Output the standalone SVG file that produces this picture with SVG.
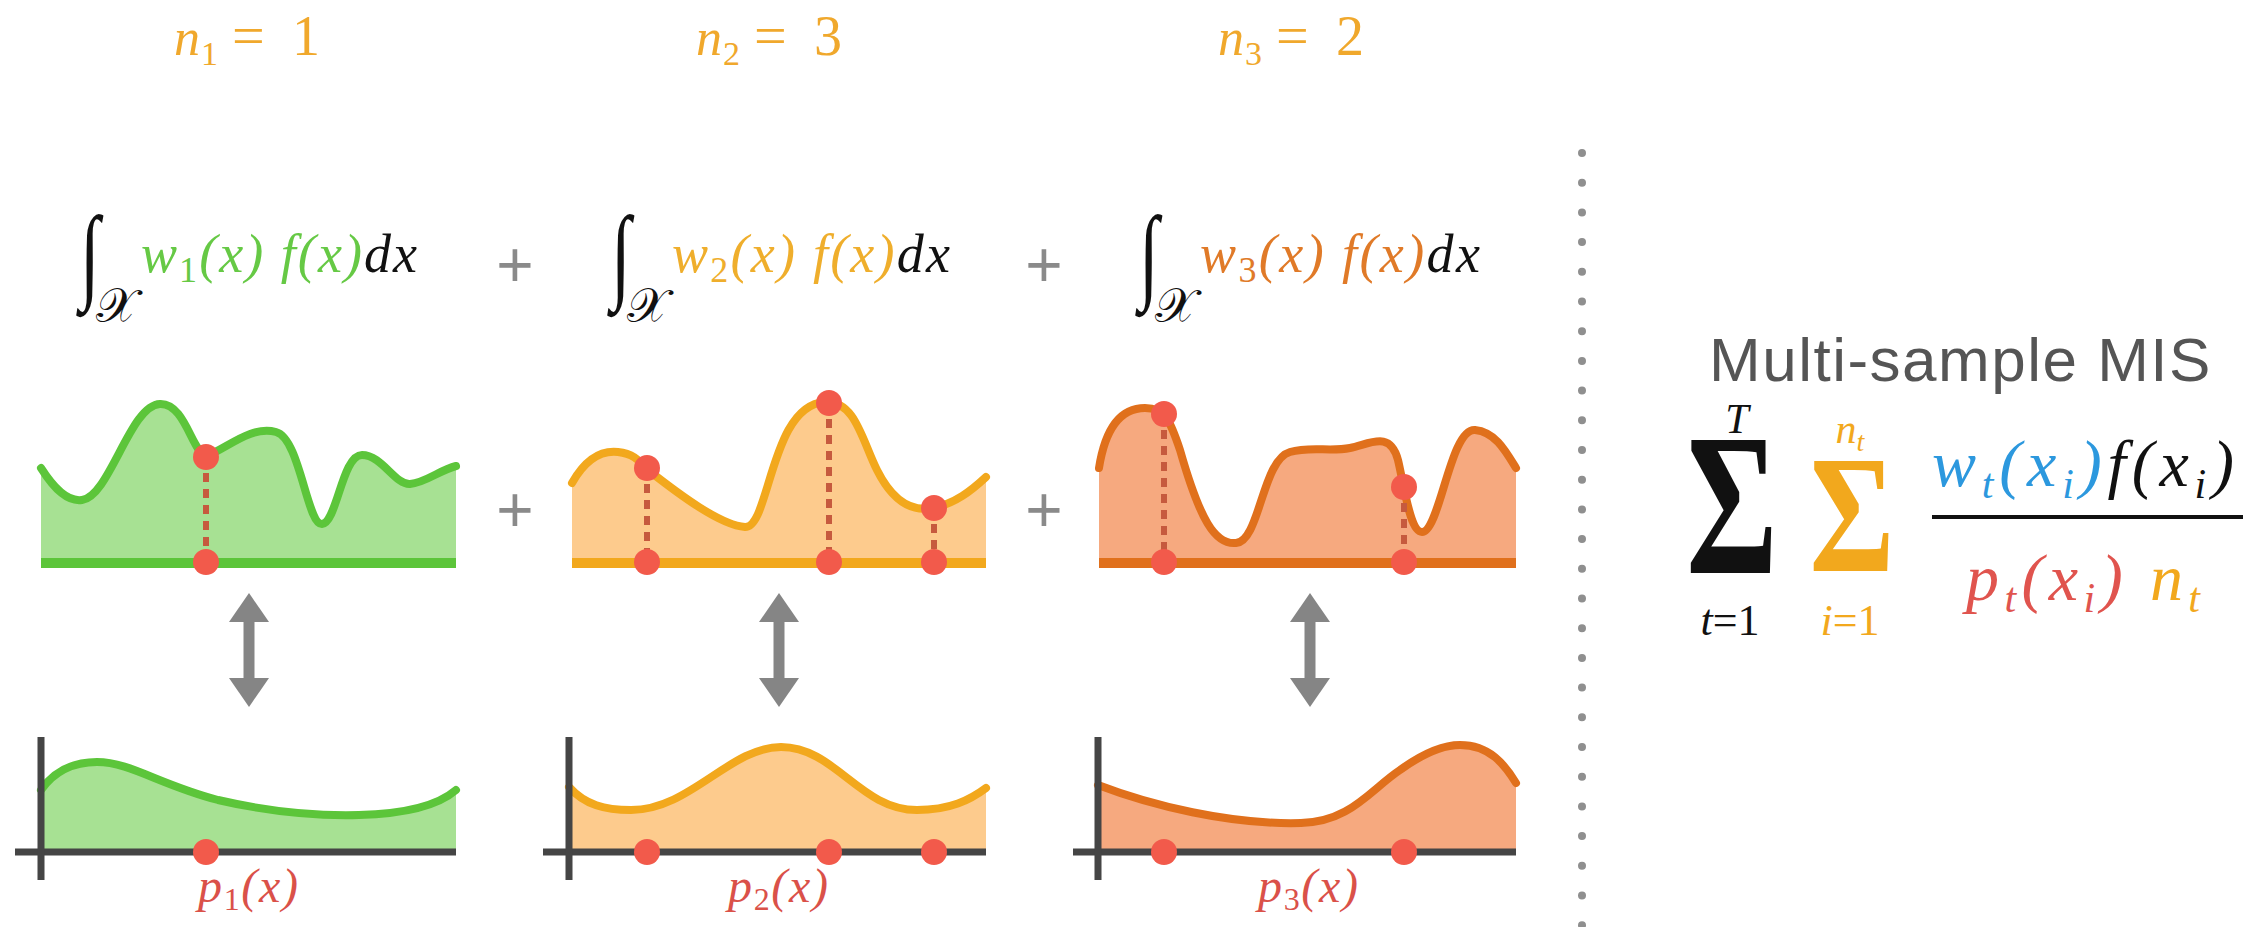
<svg xmlns="http://www.w3.org/2000/svg" width="2262" height="927" viewBox="0 0 2262 927">
<style>
.math{font-family:"Liberation Serif","DejaVu Serif",serif;font-style:italic}
.up{font-style:normal}
.curve{fill:none;stroke-width:8;stroke-linecap:round;stroke-linejoin:round}
.base{stroke-width:10}
.gf{fill:#A7E193}.gs{stroke:#5CC53A}
.of{fill:#FDCB8D}.os{stroke:#F2A81D}
.rf{fill:#F6A97F}.rs{stroke:#E0701C}
.axis{stroke:#454545;stroke-width:7}
.dot{fill:#F25A4B}
.drop{stroke:#C65A3E;stroke-width:6;stroke-dasharray:9 7}
.plus{font-family:"Liberation Sans",sans-serif;fill:#8a8a8a;font-size:64px;text-anchor:middle}
.nlab{fill:#F0A82C;font-size:52px}
.plab{fill:#DA5149;font-size:48px}
.intsign{font-family:"Liberation Serif","DejaVu Serif",serif;font-size:72px;fill:#111}
.scx{font-family:"DejaVu Serif","DejaVu Sans",serif;font-size:48px;fill:#111;text-anchor:middle}
.sigma{font-family:"Liberation Serif","DejaVu Serif",serif;font-weight:bold;text-anchor:middle}
.arrow{stroke:#858585;stroke-width:11;fill:none}
</style>
<defs>
<marker id="ah" viewBox="0 0 29 40" refX="0" refY="20" markerWidth="29" markerHeight="40" markerUnits="userSpaceOnUse" orient="auto-start-reverse">
<path d="M0,0 L29,20 L0,40 Z" fill="#858585"/>
</marker>
</defs>
<rect width="2262" height="927" fill="#fff"/>

<!-- n labels -->
<g id="label-n1"><text class="math nlab" y="55"><tspan x="174">n</tspan><tspan class="up" font-size="34" x="201" dy="10">1</tspan><tspan class="up" x="232" dy="-10" font-size="58">=</tspan><tspan class="up" x="292" font-size="56">1</tspan></text></g>
<g id="label-n2"><text class="math nlab" y="55"><tspan x="696">n</tspan><tspan class="up" font-size="34" x="723" dy="10">2</tspan><tspan class="up" x="754" dy="-10" font-size="58">=</tspan><tspan class="up" x="814" font-size="56">3</tspan></text></g>
<g id="label-n3"><text class="math nlab" y="55"><tspan x="1218">n</tspan><tspan class="up" font-size="34" x="1245" dy="10">3</tspan><tspan class="up" x="1276" dy="-10" font-size="58">=</tspan><tspan class="up" x="1336" font-size="56">2</tspan></text></g>

<!-- integrals -->
<g id="integral-1">
<text class="intsign" transform="translate(80,289) scale(1,1.46)">∫</text>
<text class="scx" x="116" y="322">𝒳</text>
<text class="math" x="141" y="272" font-size="54" textLength="276" lengthAdjust="spacing"><tspan fill="#66C945">w<tspan class="up" font-size="36" dy="10">1</tspan><tspan dy="-10">(x) f(x)</tspan></tspan><tspan fill="#111">dx</tspan></text>
</g>
<g id="plus-top-1"><text class="plus" x="515" y="287">+</text></g>
<g id="integral-2">
<text class="intsign" transform="translate(611,289) scale(1,1.46)">∫</text>
<text class="scx" x="647" y="322">𝒳</text>
<text class="math" x="672" y="272" font-size="54" textLength="278" lengthAdjust="spacing"><tspan fill="#EFAE2C">w<tspan class="up" font-size="36" dy="10">2</tspan><tspan dy="-10">(x) f(x)</tspan></tspan><tspan fill="#111">dx</tspan></text>
</g>
<g id="plus-top-2"><text class="plus" x="1044" y="287">+</text></g>
<g id="integral-3">
<text class="intsign" transform="translate(1139,289) scale(1,1.46)">∫</text>
<text class="scx" x="1175" y="322">𝒳</text>
<text class="math" x="1200" y="272" font-size="54" textLength="280" lengthAdjust="spacing"><tspan fill="#E07A28">w<tspan class="up" font-size="36" dy="10">3</tspan><tspan dy="-10">(x) f(x)</tspan></tspan><tspan fill="#111">dx</tspan></text>
</g>

<!-- top graphs -->
<g id="graph-w1">
<path class="gf" d="M41,468 C55,490 68,502 82,500 C110,496 130,405 160,404 C185,403 192,452 206,456 C225,450 250,425 276,432 C300,438 307,525 322,524 C337,523 342,455 362,455 C382,455 395,485 410,484 C425,483 440,470 456,466 L456,563 L41,563 Z"/>
<path class="curve gs" d="M41,468 C55,490 68,502 82,500 C110,496 130,405 160,404 C185,403 192,452 206,456 C225,450 250,425 276,432 C300,438 307,525 322,524 C337,523 342,455 362,455 C382,455 395,485 410,484 C425,483 440,470 456,466"/>
<line class="base gs" x1="41" y1="563" x2="456" y2="563"/>
<line class="drop" x1="206" y1="457" x2="206" y2="562"/>
<circle class="dot" cx="206" cy="457" r="13"/>
<circle class="dot" cx="206" cy="562" r="13"/>
</g>
<g id="plus-mid-1"><text class="plus" x="515" y="532">+</text></g>
<g id="graph-w2">
<path class="of" d="M572,483 C585,460 600,450 618,452 C635,454 640,462 648,470 C680,495 720,525 745,527 C770,528 770,405 825,402 C855,400 862,440 877,470 C892,500 910,512 932,508 C955,504 972,490 986,477 L986,563 L572,563 Z"/>
<path class="curve os" d="M572,483 C585,460 600,450 618,452 C635,454 640,462 648,470 C680,495 720,525 745,527 C770,528 770,405 825,402 C855,400 862,440 877,470 C892,500 910,512 932,508 C955,504 972,490 986,477"/>
<line class="base os" x1="572" y1="563" x2="986" y2="563"/>
<line class="drop" x1="647" y1="468" x2="647" y2="562"/>
<line class="drop" x1="829" y1="403" x2="829" y2="562"/>
<line class="drop" x1="934" y1="508" x2="934" y2="562"/>
<circle class="dot" cx="647" cy="468" r="13"/>
<circle class="dot" cx="829" cy="403" r="13"/>
<circle class="dot" cx="934" cy="508" r="13"/>
<circle class="dot" cx="647" cy="562" r="13"/>
<circle class="dot" cx="829" cy="562" r="13"/>
<circle class="dot" cx="934" cy="562" r="13"/>
</g>
<g id="plus-mid-2"><text class="plus" x="1044" y="532">+</text></g>
<g id="graph-w3">
<path class="rf" d="M1099,468 C1105,430 1120,408 1145,408 C1165,408 1170,420 1180,450 C1200,520 1215,545 1236,543 C1260,541 1262,460 1290,452 C1310,446 1330,452 1350,448 C1370,444 1390,430 1398,460 C1405,490 1410,532 1422,532 C1440,532 1450,428 1475,430 C1495,432 1505,450 1516,468 L1516,563 L1099,563 Z"/>
<path class="curve rs" d="M1099,468 C1105,430 1120,408 1145,408 C1165,408 1170,420 1180,450 C1200,520 1215,545 1236,543 C1260,541 1262,460 1290,452 C1310,446 1330,452 1350,448 C1370,444 1390,430 1398,460 C1405,490 1410,532 1422,532 C1440,532 1450,428 1475,430 C1495,432 1505,450 1516,468"/>
<line class="base rs" x1="1099" y1="563" x2="1516" y2="563"/>
<line class="drop" x1="1164" y1="414" x2="1164" y2="562"/>
<line class="drop" x1="1404" y1="487" x2="1404" y2="562"/>
<circle class="dot" cx="1164" cy="414" r="13"/>
<circle class="dot" cx="1404" cy="487" r="13"/>
<circle class="dot" cx="1164" cy="562" r="13"/>
<circle class="dot" cx="1404" cy="562" r="13"/>
</g>

<!-- connectors -->
<g id="connectors">
<line class="arrow" x1="249" y1="622" x2="249" y2="678" marker-start="url(#ah)" marker-end="url(#ah)"/>
<line class="arrow" x1="779" y1="622" x2="779" y2="678" marker-start="url(#ah)" marker-end="url(#ah)"/>
<line class="arrow" x1="1310" y1="622" x2="1310" y2="678" marker-start="url(#ah)" marker-end="url(#ah)"/>
</g>

<!-- bottom graphs -->
<g id="graph-p1">
<path class="gf" d="M41,790 C55,770 75,762 97,762 C130,762 160,785 218,800 C270,812 320,816 359,815 C400,814 435,808 456,790 L456,852 L41,852 Z"/>
<path class="curve gs" d="M41,790 C55,770 75,762 97,762 C130,762 160,785 218,800 C270,812 320,816 359,815 C400,814 435,808 456,790"/>
<line class="axis" x1="15" y1="852" x2="456" y2="852"/>
<line class="axis" x1="41" y1="737" x2="41" y2="880"/>
<circle class="dot" cx="206" cy="852" r="13"/>
<text class="math plab" x="198" y="902" textLength="100" lengthAdjust="spacing">p<tspan class="up" font-size="32" dy="8">1</tspan><tspan dy="-8">(x)</tspan></text>
</g>
<g id="graph-p2">
<path class="of" d="M569,787 C585,805 605,810 631,810 C690,810 730,747 781,747 C835,747 860,810 917,810 C950,810 970,800 986,788 L986,852 L569,852 Z"/>
<path class="curve os" d="M569,787 C585,805 605,810 631,810 C690,810 730,747 781,747 C835,747 860,810 917,810 C950,810 970,800 986,788"/>
<line class="axis" x1="543" y1="852" x2="986" y2="852"/>
<line class="axis" x1="569" y1="737" x2="569" y2="880"/>
<circle class="dot" cx="647" cy="852" r="13"/>
<circle class="dot" cx="829" cy="852" r="13"/>
<circle class="dot" cx="934" cy="852" r="13"/>
<text class="math plab" x="728" y="902" textLength="100" lengthAdjust="spacing">p<tspan class="up" font-size="32" dy="8">2</tspan><tspan dy="-8">(x)</tspan></text>
</g>
<g id="graph-p3">
<path class="rf" d="M1098,785 C1150,805 1230,825 1301,823 C1350,822 1370,790 1400,770 C1425,752 1445,745 1460,745 C1490,745 1505,765 1516,783 L1516,852 L1098,852 Z"/>
<path class="curve rs" d="M1098,785 C1150,805 1230,825 1301,823 C1350,822 1370,790 1400,770 C1425,752 1445,745 1460,745 C1490,745 1505,765 1516,783"/>
<line class="axis" x1="1073" y1="852" x2="1516" y2="852"/>
<line class="axis" x1="1098" y1="737" x2="1098" y2="880"/>
<circle class="dot" cx="1164" cy="852" r="13"/>
<circle class="dot" cx="1404" cy="852" r="13"/>
<text class="math plab" x="1258" y="902" textLength="100" lengthAdjust="spacing">p<tspan class="up" font-size="32" dy="8">3</tspan><tspan dy="-8">(x)</tspan></text>
</g>

<!-- divider -->
<g id="divider">
<line x1="1582" y1="153" x2="1582" y2="927" stroke="#8f8f8f" stroke-width="8" stroke-linecap="round" stroke-dasharray="0 29.7"/>
</g>

<!-- MIS formula -->
<g id="mis-title"><text x="1709" y="381" font-family="Liberation Sans, Arial, sans-serif" font-size="62" fill="#555" letter-spacing="1.5">Multi-sample MIS</text></g>
<g id="mis-formula">
<text class="sigma" transform="translate(1732,573) scale(1,1.45)" font-size="140" fill="#111">Σ</text>
<text class="math" x="1737" y="433" font-size="42" fill="#111" text-anchor="middle">T</text>
<text class="math" x="1730" y="635" font-size="44" fill="#111" text-anchor="middle">t<tspan class="up">=1</tspan></text>
<text class="sigma" transform="translate(1852,571) scale(1,1.29)" font-size="130" fill="#F2A81D">Σ</text>
<text class="math" x="1850" y="443" font-size="42" fill="#F2A81D" text-anchor="middle">n<tspan font-size="28" dy="8">t</tspan></text>
<text class="math" x="1850" y="635" font-size="44" fill="#F2A81D" text-anchor="middle">i<tspan class="up">=1</tspan></text>
<text class="math" x="1932" y="486" font-size="66" textLength="302" lengthAdjust="spacing"><tspan fill="#2C98DE">w<tspan font-size="42" dy="12">t</tspan><tspan dy="-12">(x</tspan><tspan font-size="42" dy="12">i</tspan><tspan dy="-12">)</tspan></tspan><tspan fill="#111">f(x<tspan font-size="42" dy="12">i</tspan><tspan dy="-12">)</tspan></tspan></text>
<line x1="1932" y1="517" x2="2243" y2="517" stroke="#111" stroke-width="4"/>
<text class="math" x="1966" y="600" font-size="66" textLength="234" lengthAdjust="spacing"><tspan fill="#E0544E">p<tspan font-size="42" dy="12">t</tspan><tspan dy="-12">(x</tspan><tspan font-size="42" dy="12">i</tspan><tspan dy="-12">) </tspan></tspan><tspan fill="#F2A81D">n<tspan font-size="42" dy="12">t</tspan></tspan></text>
</g>
</svg>
